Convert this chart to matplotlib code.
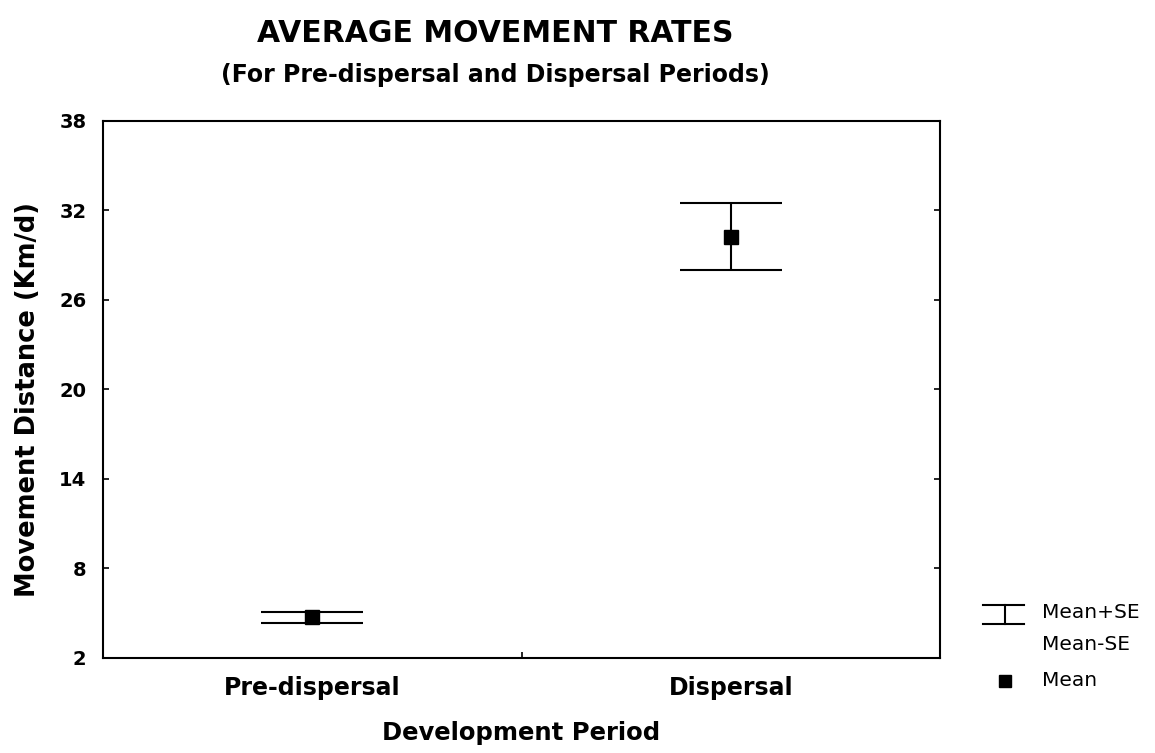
import matplotlib.pyplot as plt
from matplotlib.lines import Line2D

# values
periods = ['Pre-dispersal', 'Dispersal']
means = [4.71, 30.18]
upper = [5.08, 32.45]   # Mean+SE
lower = [4.35, 28.0]    # Mean-SE
yticks = [2, 8, 14, 20, 26, 32, 38]

plt.rcParams['font.family'] = ['DejaVu Sans']
plt.rcParams['font.weight'] = 'bold'

fig = plt.figure(figsize=(11.55, 7.53), dpi=100)
ax = fig.add_axes([0.0892, 0.1266, 0.7247, 0.7131])

xpos = [0.5, 1.5]
err_lo = [m - l for m, l in zip(means, lower)]
err_hi = [u - m for m, u in zip(means, upper)]
ax.errorbar(xpos, means, yerr=[err_lo, err_hi], fmt='none', ecolor='black',
            elinewidth=1.5, capsize=36.5, capthick=1.5)
ax.plot(xpos, means, 's', color='black', markersize=10)

ax.set_xlim(0, 2)
ax.set_ylim(2, 38)
ax.set_yticks(yticks)
ax.set_yticklabels([str(t) for t in yticks], fontsize=14, fontweight='bold')
ax.set_xticks([1])
ax.set_xticklabels([''])
ax.set_xticks(xpos, minor=True)
ax.set_xticklabels(periods, minor=True, fontsize=17, fontweight='bold')
ax.tick_params(axis='x', which='minor', length=0, pad=13)
ax.tick_params(axis='x', which='major', direction='in', length=4, width=1.2)
ax.tick_params(axis='y', direction='in', length=4, width=1.2, right=True, pad=12)
for s in ax.spines.values():
    s.set_linewidth(1.5)

ax.set_xlabel('Development Period', fontsize=17.5, fontweight='bold', labelpad=15)
ax.set_ylabel('Movement Distance (Km/d)', fontsize=18.5, fontweight='bold',
              labelpad=13, y=0.48)

fig.text(0.4286, 0.956, 'AVERAGE MOVEMENT RATES', ha='center', va='center',
         fontsize=21.5, fontweight='bold')
fig.text(0.4286, 0.900, '(For Pre-dispersal and Dispersal Periods)', ha='center',
         va='center', fontsize=17, fontweight='bold')

# legend drawn by hand in figure space
W, H = 1155, 753
def fx(px):
    return px / W
def fy(py):
    return 1 - py / H
lk = dict(color='black', linewidth=1.5, transform=fig.transFigure)
fig.add_artist(Line2D([fx(983), fx(1024)], [fy(605), fy(605)], **lk))
fig.add_artist(Line2D([fx(983), fx(1024)], [fy(624), fy(624)], **lk))
fig.add_artist(Line2D([fx(1004.5), fx(1004.5)], [fy(605), fy(624)], **lk))
fig.add_artist(Line2D([fx(1005)], [fy(681)], marker='s', color='black',
                      markersize=9, linestyle='none', transform=fig.transFigure))
for txt, py in [('Mean+SE', 613), ('Mean-SE', 645), ('Mean', 681)]:
    fig.text(fx(1042), fy(py), txt, ha='left', va='center', fontsize=14.5,
             fontweight='normal')

fig.savefig('out.png', dpi=100)
